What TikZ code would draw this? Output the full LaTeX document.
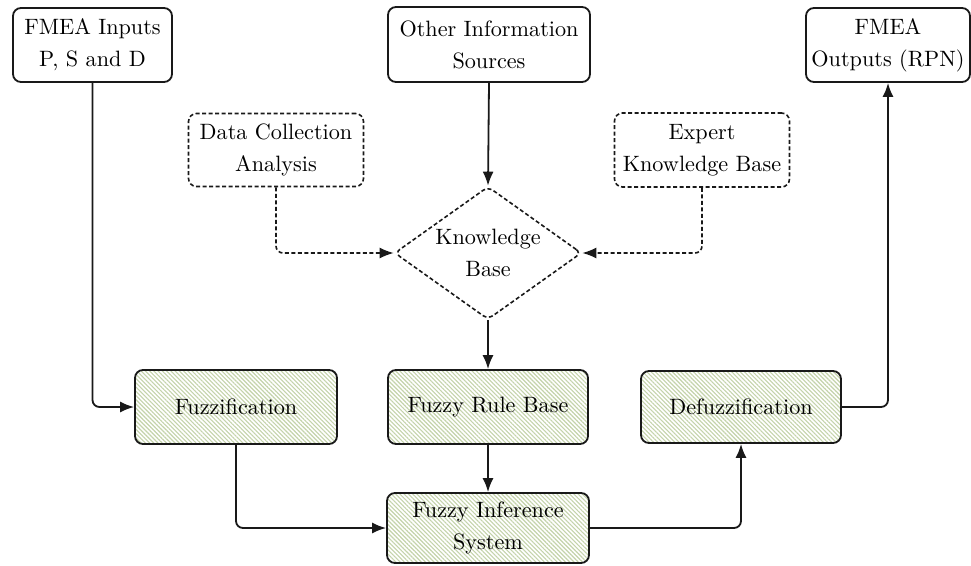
\documentclass[tikz,border=0pt]{standalone}
\usepackage{fontspec}
\setmainfont{lmroman10-regular.otf}
\usetikzlibrary{shapes.geometric,arrows.meta,patterns.meta}
\definecolor{stripe}{RGB}{196,211,170}
\definecolor{ink}{RGB}{25,25,25}
\begin{document}
\begin{tikzpicture}[x=1pt,y=-1pt,
  font=\fontsize{22.2}{32}\selectfont,
  every node/.style={text=black},
  box/.style={draw=ink,line width=1.8pt,rounded corners=8pt,align=center,inner sep=2pt},
  dotbox/.style={box,line width=1.6pt,dash pattern=on 4pt off 2.5pt},
  fuzzybox/.style={box,
    preaction={fill=white},
    preaction={pattern={Lines[angle=-45,distance=3pt,line width=1.1pt]},pattern color=stripe}},
  arr/.style={draw=ink,line width=1.8pt,rounded corners=7pt,-{Latex[length=14pt,width=11pt]}},
  darr/.style={arr,line width=1.6pt,dash pattern=on 4pt off 2.5pt}]
\useasboundingbox (0,0) rectangle (971,565);

% top row
\node[box,minimum width=159pt,minimum height=74pt] (in) at (92.5,45) {FMEA Inputs\\P, S and D};
\node[box,minimum width=202pt,minimum height=75pt] (other) at (489,44.5) {Other Information\\Sources};
\node[box,minimum width=164pt,minimum height=74pt] (out) at (888,45) {FMEA\\Outputs (RPN)};

% knowledge sources
\node[dotbox,minimum width=175pt,minimum height=73pt] (data) at (276,150) {Data Collection\\Analysis};
\node[dotbox,minimum width=175pt,minimum height=74pt] (expert) at (702,150) {Expert\\Knowledge Base};
\node[diamond,draw=ink,line width=1.6pt,dash pattern=on 4pt off 2.5pt,rounded corners=6pt,
      aspect=1.4,inner sep=0pt,minimum width=187pt,minimum height=133pt,align=center]
      (kb) at (488,253) {Knowledge\\Base};

% fuzzy processing
\node[fuzzybox,minimum width=202pt,minimum height=74pt] (fuzz) at (236,407) {Fuzzification};
\node[fuzzybox,minimum width=200pt,minimum height=74pt] (rule) at (488,407) {Fuzzy Rule Base};
\node[fuzzybox,minimum width=200pt,minimum height=72pt] (defuzz) at (741,407) {Defuzzification};
\node[fuzzybox,minimum width=202pt,minimum height=70pt] (fis) at (488,528) {Fuzzy Inference\\System};

% connectors
\draw[arr] (in.south) |- (fuzz.west);
\draw[arr] (other.south) -- (kb.north);
\draw[darr] (data.south) |- (kb.west);
\draw[darr] (expert.south) |- (kb.east);
\draw[arr] (kb.south) -- (rule.north);
\draw[arr] (rule.south) -- (fis.north);
\draw[arr] (fuzz.south) |- (fis.west);
\draw[arr] (fis.east) -| (defuzz.south);
\draw[arr] (defuzz.east) -| (out.south);
\end{tikzpicture}
\end{document}
